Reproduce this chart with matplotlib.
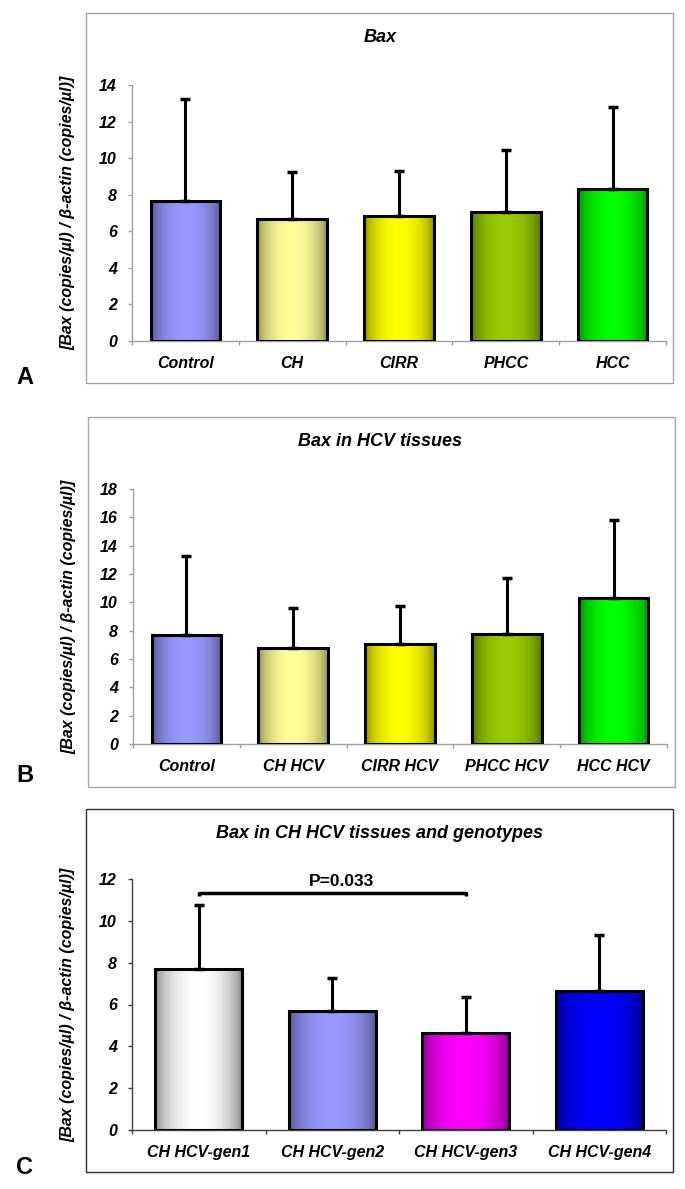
import numpy as np
import matplotlib
matplotlib.use("Agg")
import matplotlib.pyplot as plt
from matplotlib.patches import Rectangle
from matplotlib.colors import to_rgb

# ---------------- data ----------------
cats_a = ["Control", "CH", "CIRR", "PHCC", "HCC"]
mean_a = [7.66, 6.66, 6.82, 7.08, 8.30]
sd_a = [5.59, 2.59, 2.48, 3.34, 4.47]
yticks_a = [0, 2, 4, 6, 8, 10, 12, 14]

cats_b = ["Control", "CH HCV", "CIRR HCV", "PHCC HCV", "HCC HCV"]
mean_b = [7.72, 6.80, 7.05, 7.76, 10.30]
sd_b = [5.58, 2.80, 2.70, 3.94, 5.50]
yticks_b = [0, 2, 4, 6, 8, 10, 12, 14, 16, 18]

cats_c = ["CH HCV-gen1", "CH HCV-gen2", "CH HCV-gen3", "CH HCV-gen4"]
mean_c = [7.70, 5.69, 4.64, 6.66]
sd_c = [3.06, 1.59, 1.72, 2.65]
yticks_c = [0, 2, 4, 6, 8, 10, 12]

titles = ["Bax", "Bax in HCV tissues", "Bax in CH HCV tissues and genotypes"]
panel_letters = ["A", "B", "C"]
ylabel = "[Bax (copies/\u00b5l) / \u03b2-actin (copies/\u00b5l)]"
p_text = "P=0.033"
p_pair = (0, 2)
p_level = 11.34

# gradient colours (centre, edge)
cols_a = [("#9999FF", "#4D4D80"), ("#FFFF99", "#80804D"), ("#FFFF00", "#808000"),
          ("#99CC00", "#4D6600"), ("#00FF00", "#008000")]
cols_b = cols_a
cols_c = [("#FFFFFF", "#7A7A7A"), ("#9999FF", "#4D4D80"), ("#FF00FF", "#800080"),
          ("#0000FF", "#000080")]

FONT = "Liberation Sans"
W, H = 685, 1189
fig = plt.figure(figsize=(W / 100, H / 100), dpi=100)


def fx(px):
    return px / W


def fy(py):
    return 1 - py / H


def gradient_bars(ax, cats, means, sds, cols):
    x = np.arange(len(cats))
    bars = ax.bar(x, means, width=0.65, facecolor="none", edgecolor="black",
                  linewidth=2.2, zorder=3)
    t = np.linspace(0, 1, 200)
    g = np.sin(np.pi * t) ** 0.55
    for b, (c_in, c_out) in zip(bars, cols):
        ci = np.array(to_rgb(c_in))
        co = np.array(to_rgb(c_out))
        img = co[None, :] + (ci - co)[None, :] * g[:, None]
        img = img[None, :, :]
        x0 = b.get_x()
        im = ax.imshow(img, extent=[x0, x0 + b.get_width(), 0, b.get_height()],
                       aspect="auto", zorder=2, interpolation="bilinear")
        im.set_clip_path(b)
    ax.errorbar(x, means, yerr=[np.zeros(len(means)), sds], fmt="none",
                ecolor="black", elinewidth=2.2, capsize=3.5, capthick=2.5, zorder=4)
    return x


def style_axes(ax, cats, yticks, spine_col):
    n = len(cats)
    ax.set_xlim(-0.5, n - 0.5)
    ax.set_ylim(yticks[0], yticks[-1])
    ax.set_yticks(yticks)
    ax.set_xticks(np.arange(n))
    ax.set_xticks(np.arange(n + 1) - 0.5, minor=True)
    ax.set_xticklabels(cats, fontfamily=FONT, fontweight="bold", fontstyle="italic",
                       fontsize=11.5)
    ax.set_yticklabels([str(v) for v in yticks], fontfamily=FONT, fontweight="bold",
                       fontstyle="italic", fontsize=11.5)
    for s in ["top", "right"]:
        ax.spines[s].set_visible(False)
    for s in ["left", "bottom"]:
        ax.spines[s].set_color(spine_col)
        ax.spines[s].set_linewidth(1.0)
    ax.tick_params(axis="x", which="major", length=0, pad=11)
    ax.tick_params(axis="x", which="minor", length=3, color=spine_col, width=1)
    ax.tick_params(axis="y", length=3, color=spine_col, width=1, pad=8)
    ax.set_ylabel(ylabel, fontfamily=FONT, fontweight="bold", fontstyle="italic",
                  fontsize=11.5, va="center")
    ax.yaxis.set_label_coords(-(132 - 68) / 534, 0.5)


# axes geometry in pixels: (left, right, y of 0, y of top)
geo = [(132, 666, 341, 85), (133, 667, 744, 489), (132, 666, 1130, 879)]
frames = [(86, 13, 673, 383, "#A6A6A6"), (88, 417, 675, 787, "#A6A6A6"),
          (86, 809, 673, 1172, "#303030")]
title_y = [38, 442, 833]
letter_y = [378, 776, 1167]
spine_cols = ["#A0A0A0", "#A0A0A0", "#404040"]

data = [(cats_a, mean_a, sd_a, cols_a, yticks_a),
        (cats_b, mean_b, sd_b, cols_b, yticks_b),
        (cats_c, mean_c, sd_c, cols_c, yticks_c)]

for i, (cats, means, sds, cols, yt) in enumerate(data):
    l, r, y0, y1 = geo[i]
    fl, ft, fr, fb, fc = frames[i]
    fig.patches.append(Rectangle((fx(fl), fy(fb)), fx(fr) - fx(fl), fy(ft) - fy(fb),
                                 transform=fig.transFigure, fill=False,
                                 edgecolor=fc, linewidth=1.0, zorder=0))
    ax = fig.add_axes([fx(l), fy(y0), fx(r) - fx(l), fy(y1) - fy(y0)])
    ax.patch.set_alpha(0)
    gradient_bars(ax, cats, means, sds, cols)
    style_axes(ax, cats, yt, spine_cols[i])
    fig.text(fx(380), fy(title_y[i]), titles[i], ha="center", va="center",
             fontfamily=FONT, fontweight="bold", fontstyle="italic", fontsize=13)
    fig.text(fx(25), fy(letter_y[i]), panel_letters[i], ha="center", va="center",
             fontfamily=FONT, fontweight="bold", fontsize=17)
    if i == 2:
        a, b = p_pair
        ax.plot([a, a, b, b], [p_level - 0.15, p_level, p_level, p_level - 0.15],
                color="black", linewidth=2.5, solid_capstyle="butt", zorder=5)
        ax.text((a + b) / 2 + 0.07, p_level + 0.2, p_text, ha="center", va="bottom",
                fontfamily=FONT, fontweight="bold", fontsize=12.5)
    ax.set_xlim(-0.5, len(cats) - 0.5)
    ax.set_ylim(yt[0], yt[-1])

fig.savefig("out.png", dpi=100)
